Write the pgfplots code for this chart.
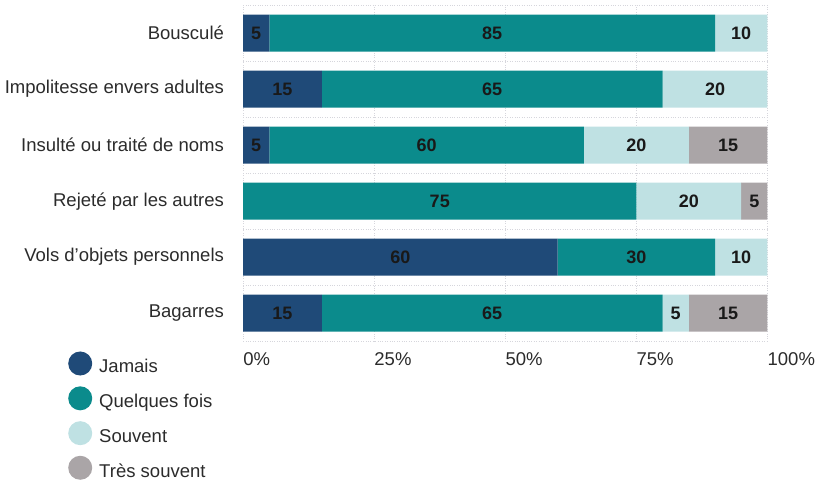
\documentclass[border=0pt]{standalone}
\usepackage{pgfplots}
\pgfplotsset{compat=1.18}
\usepackage{pgfplotstable}
\usepackage{fontspec}
\setmainfont{Liberation Sans}

\definecolor{jamais}{HTML}{1F4A78}
\definecolor{quelques}{HTML}{0B8B8C}
\definecolor{souvent}{HTML}{BFE1E3}
\definecolor{tres}{HTML}{AAA5A7}
\definecolor{txt}{HTML}{2B2B2B}
\definecolor{gridc}{HTML}{D6D6DC}

% y: 0 = Bagarres (bas) ... 5 = Bousculé (haut)
\pgfplotstableread{
y j  q  s  t
0 15 65 5  15
1 60 30 10 0
2 0  75 20 5
3 5  60 20 15
4 15 65 20 0
5 5  85 10 0
}\donnees

\begin{document}
\begin{tikzpicture}
\begin{axis}[
  xbar stacked,
  scale only axis,
  width=524pt, height=336pt,
  xmin=0, xmax=100, ymin=-0.5, ymax=5.5,
  bar width=37pt,
  axis line style={draw=none},
  tick style={draw=none},
  xtick={0,25,50,75,100},
  xticklabels={0\%,25\%,50\%,75\%,100\%},
  ytick={0,1,2,3,4,5},
  yticklabels={Bagarres,Vols d’objets personnels,Rejeté par les autres,Insulté ou traité de noms,Impolitesse envers adultes,Bousculé},
  xmajorgrids,
  major grid style={gridc, dotted, line width=0.9pt},
  extra y ticks={-0.5,0.5,1.5,2.5,3.5,4.5,5.5},
  extra y tick labels={},
  extra y tick style={grid=major},
  x tick label style={anchor=north west, inner sep=0pt, yshift=-11pt, text=txt, font=\fontsize{18.5}{22}\selectfont},
  y tick label style={anchor=east, inner sep=0pt, xshift=-19pt, text=txt, font=\fontsize{18.5}{22}\selectfont},
  /pgf/number format/assume math mode=true,
  nodes near coords={\ifdim\seg pt>0pt \pgfmathprintnumber{\seg}\fi},
  every node near coord/.append style={anchor=center, text=black!90, font=\fontsize{18}{22}\selectfont\bfseries},
  legend image code/.code={\fill[#1,draw=none] (12pt,0.6ex) circle (12pt); \path (29pt,0);},
  legend style={draw=none, fill=none, at={(-0.334,-0.03)}, anchor=north west,
    inner sep=0pt, row sep=10.2pt, text=txt, font=\fontsize{18.5}{22}\selectfont,
    nodes={inner sep=2pt}},
  legend cell align=left,
]
\addplot[fill=jamais, draw=none, visualization depends on={\thisrow{j}\as\seg}] table[x=j, y=y] {\donnees};
\addplot[fill=quelques, draw=none, visualization depends on={\thisrow{q}\as\seg}] table[x=q, y=y] {\donnees};
\addplot[fill=souvent, draw=none, visualization depends on={\thisrow{s}\as\seg}] table[x=s, y=y] {\donnees};
\addplot[fill=tres, draw=none, visualization depends on={\thisrow{t}\as\seg}] table[x=t, y=y] {\donnees};
\legend{Jamais, Quelques fois, Souvent, Très souvent}
\end{axis}
\path ([xshift=-243pt,yshift=5pt]current axis.north west);
\end{tikzpicture}
\end{document}
